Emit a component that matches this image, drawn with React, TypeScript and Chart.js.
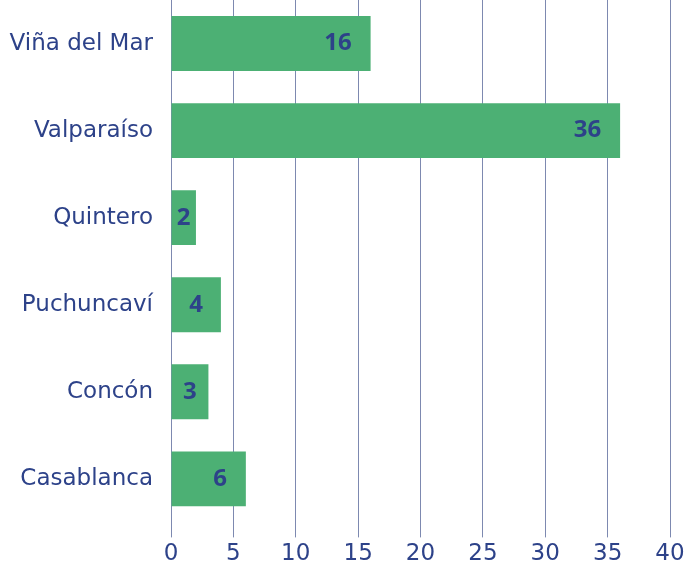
import React, { useEffect, useRef } from "react";
import { Chart, registerables } from "chart.js";

Chart.register(...registerables);

const categories = ["Viña del Mar", "Valparaíso", "Quintero", "Puchuncaví", "Concón", "Casablanca"];
const values = [16, 36, 2, 4, 3, 6];
const xMin = 0;
const xMax = 40;
const xStep = 5;

const TEXT = "#2d4289";
const BAR = "#4cb074";
const GRID = "#7d89b0";
const FONT = "'DejaVu Sans', sans-serif";
const VFONT = "'Open Sans', sans-serif";

const valueLabels = {
  id: "valueLabels",
  afterDatasetsDraw(chart: any) {
    const ctx = chart.ctx;
    const meta = chart.getDatasetMeta(0);
    ctx.save();
    ctx.font = `bold 24px ${VFONT}`;
    ctx.fillStyle = TEXT;
    ctx.textAlign = "center";
    ctx.textBaseline = "middle";
    meta.data.forEach((bar: any, i: number) => {
      const txt = String(values[i]);
      const w = ctx.measureText(txt).width;
      const cx = Math.max(bar.x - 19 - w / 2, (bar.x + bar.base) / 2);
      ctx.fillText(txt, cx, bar.y);
    });
    ctx.restore();
  },
};

export default function App() {
  const ref = useRef<HTMLCanvasElement>(null);
  useEffect(() => {
    const chart = new Chart(ref.current!, {
      type: "bar",
      data: {
        labels: categories,
        datasets: [
          {
            data: values,
            backgroundColor: BAR,
            borderWidth: 0,
            barPercentage: 0.63,
            categoryPercentage: 1,
          },
        ],
      },
      options: {
        indexAxis: "y",
        animation: false,
        responsive: false,
        layout: { padding: { top: 0, right: 19, bottom: 0, left: 0 } },
        plugins: { legend: { display: false }, tooltip: { enabled: false } },
        scales: {
          x: {
            min: xMin,
            max: xMax,
            ticks: {
              stepSize: xStep,
              color: TEXT,
              font: { family: FONT, size: 23 },
              padding: 3,
            },
            grid: { color: GRID, lineWidth: 1, drawTicks: true, tickLength: 15 },
            border: { display: false },
          },
          y: {
            ticks: {
              color: TEXT,
              font: { family: FONT, size: 23 },
              padding: 10,
            },
            grid: { display: false },
            border: { display: false },
            afterFit(scale: any) {
              scale.width = 171;
              scale.paddingTop = 0;
              scale.paddingBottom = 0;
            },
          },
        },
      },
      plugins: [valueLabels],
    });
    return () => chart.destroy();
  }, []);
  return (
    <div style={{ position: "fixed", left: 0, top: 0, width: 689, height: 571, background: "#fff" }}>
      <canvas ref={ref} width={689} height={571} />
    </div>
  );
}
